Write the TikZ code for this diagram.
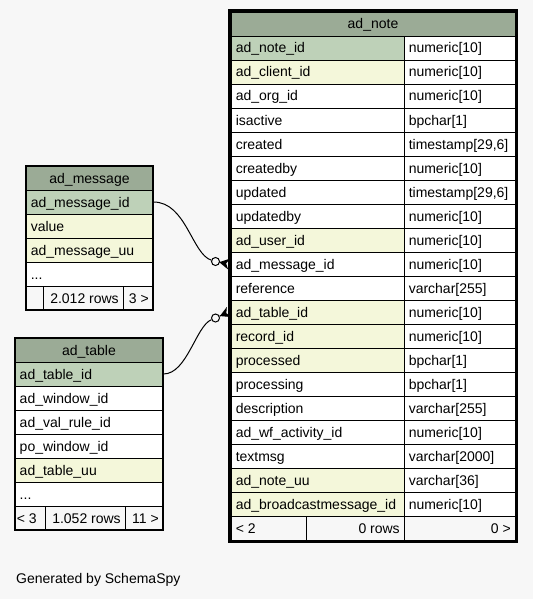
\documentclass[tikz,border=0pt]{standalone}
\usepackage{fontspec}
\setmainfont{Liberation Sans}
\usetikzlibrary{arrows.meta}
\definecolor{bg}{HTML}{F7F7F7}
\definecolor{hdr}{HTML}{9BAB96}
\definecolor{pk}{HTML}{BED1B8}
\definecolor{idx}{HTML}{F4F7DA}
\tikzset{
  box/.style={draw=black, line width=0.9pt, inner sep=0pt, minimum height=24pt},
  txt/.style={inner sep=0pt, text height=12pt, text depth=2pt, font=\fontsize{14pt}{16pt}\selectfont},
  outer/.style={draw=black, line width=1.6pt},
  focus/.style={draw=black, line width=3pt},
  circ/.style={circle, draw=black, fill=bg, line width=1pt, inner sep=0pt, minimum size=8pt},
  conn/.style={draw=black, line width=1pt},
  crow/.style={-{Stealth[reversed, length=10pt, width=11pt, inset=3pt]}}
}
% name, x-left, y-top, width, fill, text
\newcommand\lcell[6]{\node[box,fill=#5,minimum width=#4pt] (#1) at ({#2+#4/2},{#3+12}) {};
  \node[txt,anchor=west] (#1-t) at ([xshift=5pt]#1.west) {#6};}
\newcommand\rcell[6]{\node[box,fill=#5,minimum width=#4pt] (#1) at ({#2+#4/2},{#3+12}) {};
  \node[txt,anchor=east] (#1-t) at ([xshift=-4.5pt]#1.east) {#6};}
\newcommand\ccell[6]{\node[box,fill=#5,minimum width=#4pt] (#1) at ({#2+#4/2},{#3+12}) {};
  \node[txt] (#1-t) at (#1.center) {#6};}
\begin{document}
\begin{tikzpicture}[x=1pt,y=-1pt]
\useasboundingbox[fill=bg] (0,0) rectangle (533,599);

% ---- ad_note ----
\ccell{nh}{231}{12}{284}{hdr}{ad\_note}
\foreach \nm/\ty/\f [count=\i] in {
 ad\_note\_id/numeric[10]/pk, ad\_client\_id/numeric[10]/idx, ad\_org\_id/numeric[10]/white,
 isactive/bpchar[1]/white, created/{timestamp[29,6]}/white, createdby/numeric[10]/white,
 updated/{timestamp[29,6]}/white, updatedby/numeric[10]/white, ad\_user\_id/numeric[10]/idx,
 ad\_message\_id/numeric[10]/white, reference/varchar[255]/white, ad\_table\_id/numeric[10]/idx,
 record\_id/numeric[10]/idx, processed/bpchar[1]/idx, processing/bpchar[1]/white,
 description/varchar[255]/white, ad\_wf\_activity\_id/numeric[10]/white, textmsg/varchar[2000]/white,
 ad\_note\_uu/varchar[36]/idx, ad\_broadcastmessage\_id/numeric[10]/idx}
{
 \lcell{n\i}{231}{12+24*\i}{173}{\f}{\nm}
 \lcell{nt\i}{404}{12+24*\i}{111}{white}{\ty}
}
\lcell{nf1}{231}{516}{75}{bg}{< 2}
\rcell{nf2}{306}{516}{98}{bg}{0 rows}
\rcell{nf3}{404}{516}{111}{bg}{0 >}
\draw[focus] (229.5,10.5) rectangle (516.5,541.5);

% ---- ad_message ----
\ccell{mh}{26}{166}{127}{hdr}{ad\_message}
\lcell{m1}{26}{190}{127}{pk}{ad\_message\_id}
\lcell{m2}{26}{214}{127}{idx}{value}
\lcell{m3}{26}{238}{127}{idx}{ad\_message\_uu}
\lcell{m4}{26}{262}{127}{white}{...}
\lcell{mf1}{26}{286}{17.5}{bg}{}
\rcell{mf2}{43.5}{286}{79.5}{bg}{2.012 rows}
\rcell{mf3}{123}{286}{30}{bg}{3 >}
\draw[outer] (26,166) rectangle (153,310);

% ---- ad_table ----
\ccell{ah}{15}{338}{148}{hdr}{ad\_table}
\lcell{a1}{15}{362}{148}{pk}{ad\_table\_id}
\lcell{a2}{15}{386}{148}{white}{ad\_window\_id}
\lcell{a3}{15}{410}{148}{white}{ad\_val\_rule\_id}
\lcell{a4}{15}{434}{148}{white}{po\_window\_id}
\lcell{a5}{15}{458}{148}{idx}{ad\_table\_uu}
\lcell{a6}{15}{482}{148}{white}{...}
\node[box,fill=bg,minimum width=30pt] (af1) at (30,518) {};
\node[txt,anchor=west] (af1-t) at ([xshift=2pt]af1.west) {< 3};
\rcell{af2}{45}{506}{80}{bg}{1.052 rows}
\rcell{af3}{125}{506}{38}{bg}{11 >}
\draw[outer] (15,338) rectangle (163,530);

% ---- connectors ----
\node[circ] (o1) at (215.5,261.5) {};
\node[circ] (o2) at (215.5,318) {};
\draw[conn] (m1.east) .. controls (186,202) and (192,254) .. (o1);
\draw[conn] (a1.east) .. controls (187,374) and (196,326) .. (o2);
\draw[conn,crow] (o1) -- ([xshift=-1.5pt]n10.west);
\draw[conn,crow] (o2) -- ([xshift=-1.5pt]n12.west);

% ---- footer ----
\node[txt,anchor=base west] (gen) at (16,583.5) {Generated by SchemaSpy};
\end{tikzpicture}
\end{document}
